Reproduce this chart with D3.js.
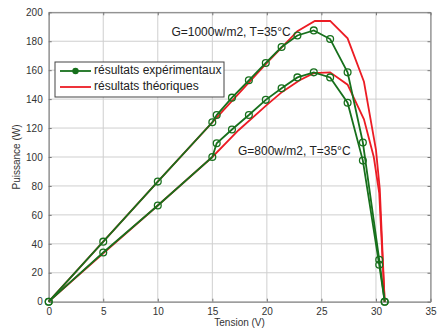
<!DOCTYPE html>
<html>
<head>
<meta charset="utf-8">
<script src="https://cdn.jsdelivr.net/npm/d3@7"></script>
<style>
  body { margin: 0; background: #fff; }
  svg { display: block; font-family: "Liberation Sans", Arial, sans-serif; }
</style>
</head>
<body>
<div id="chart"></div>
<script>
// experimental points (same voltages for both irradiances)
var vExp = [0, 5, 10, 15, 15.4, 16.8, 18.35, 19.9, 21.35, 22.8, 24.3, 25.8, 27.4, 28.8, 30.3, 30.8];
var pExp1000 = [0, 41.5, 83, 124, 129, 141, 153, 165, 176, 184, 187.5, 181.5, 158.5, 110, 29, 0];
var pExp800 = [0, 34, 66.5, 100, 109.5, 119, 129, 139.5, 147.5, 155, 158.5, 155, 137.5, 97.5, 25.5, 0];

// theoretical curves
var vTh1000 = [0, 5, 10, 15, 20, 22.8, 24.4, 25.8, 27.4, 28.9, 30, 30.35, 30.8];
var pTh1000 = [0, 41.5, 83, 124, 165, 187, 194, 194, 182, 152, 105, 78, 0];
var vTh800 = [0, 5, 10, 15, 17.4, 20, 21.4, 23, 24.3, 25.8, 27.4, 28.9, 29.8, 30.3, 30.8];
var pTh800 = [0, 33.5, 66.5, 100, 118.5, 136, 145, 153, 158, 158.5, 150, 126, 100, 75, 0];

var xTicks = [0, 5, 10, 15, 20, 25, 30, 35];
var yTicks = [0, 20, 40, 60, 80, 100, 120, 140, 160, 180, 200];
var legendLabels = ["résultats expérimentaux", "résultats théoriques"];
var notes = [
  { text: "G=1000w/m2, T=35°C", v: 11.25, p: 186 },
  { text: "G=800w/m2, T=35°C", v: 17.35, p: 103.5 }
];

var W = 437, H = 335;
var margin = { top: 12.3, right: 6.5, bottom: 33.3, left: 48.7 };
var green = "#17701c", red = "#ec1c24";

var svg = d3.select("#chart").append("svg")
  .attr("width", W).attr("height", H);

var x = d3.scaleLinear().domain([0, 35]).range([margin.left, W - margin.right]);
var y = d3.scaleLinear().domain([0, 200]).range([H - margin.bottom, margin.top]);

// grid
var grid = svg.append("g").attr("stroke", "#cfcfcf").attr("stroke-width", 1);
grid.selectAll("line.vx").data(xTicks).enter().append("line")
  .attr("x1", d => x(d)).attr("x2", d => x(d))
  .attr("y1", y(0)).attr("y2", y(200));
grid.selectAll("line.hy").data(yTicks).enter().append("line")
  .attr("class", "hy")
  .attr("x1", x(0)).attr("x2", x(35))
  .attr("y1", d => y(d)).attr("y2", d => y(d));

// axes (ticks inward, matlab style)
svg.append("g")
  .attr("transform", "translate(0," + y(0) + ")")
  .call(d3.axisBottom(x).tickValues(xTicks).tickSizeInner(-3).tickSizeOuter(0).tickPadding(6));
svg.append("g")
  .attr("transform", "translate(" + x(0) + ",0)")
  .call(d3.axisLeft(y).tickValues(yTicks).tickSizeInner(-3).tickSizeOuter(0).tickPadding(6));
svg.append("g")
  .attr("transform", "translate(0," + y(200) + ")")
  .call(d3.axisTop(x).tickValues(xTicks).tickSizeInner(-3).tickSizeOuter(0).tickFormat(""));
svg.append("g")
  .attr("transform", "translate(" + x(35) + ",0)")
  .call(d3.axisRight(y).tickValues(yTicks).tickSizeInner(-3).tickSizeOuter(0).tickFormat(""));

svg.selectAll(".domain").attr("stroke", "#777");
svg.selectAll(".tick line").attr("stroke", "#777");
svg.selectAll(".tick text").attr("font-size", 10).attr("fill", "#333")
  .attr("font-family", "Liberation Sans, Arial, sans-serif");

// axis labels
svg.append("text")
  .attr("x", (x(0) + x(35)) / 2).attr("y", 326)
  .attr("text-anchor", "middle").attr("font-size", 10).attr("fill", "#333")
  .text("Tension (V)");
svg.append("text")
  .attr("transform", "translate(20," + (y(0) + y(200)) / 2 + ") rotate(-90)")
  .attr("text-anchor", "middle").attr("font-size", 10).attr("fill", "#333")
  .text("Puissance (W)");

var line = d3.line().x(d => x(d[0])).y(d => y(d[1]));

function drawTh(v, p) {
  svg.append("path")
    .attr("d", line(d3.zip(v, p)))
    .attr("fill", "none").attr("stroke", red).attr("stroke-width", 1.8);
}
function drawExp(v, p) {
  var pts = d3.zip(v, p);
  svg.append("path")
    .attr("d", line(pts))
    .attr("fill", "none").attr("stroke", green).attr("stroke-width", 1.8);
  svg.append("g").selectAll("circle").data(pts).enter().append("circle")
    .attr("cx", d => x(d[0])).attr("cy", d => y(d[1])).attr("r", 3.4)
    .attr("fill", "none").attr("stroke", green).attr("stroke-width", 1.3);
}

drawTh(vTh1000, pTh1000);
drawTh(vTh800, pTh800);
drawExp(vExp, pExp1000);
drawExp(vExp, pExp800);

// annotations
svg.selectAll("text.note").data(notes).enter().append("text")
  .attr("class", "note")
  .attr("x", d => x(d.v)).attr("y", d => y(d.p))
  .attr("dominant-baseline", "middle")
  .attr("font-size", 12).attr("fill", "#222")
  .text(d => d.text);

// legend
var lg = svg.append("g").attr("transform", "translate(55,62)");
lg.append("rect").attr("width", 169).attr("height", 35)
  .attr("fill", "#fff").attr("stroke", "#444").attr("stroke-width", 1);
lg.append("line").attr("x1", 5).attr("x2", 36).attr("y1", 9).attr("y2", 9)
  .attr("stroke", green).attr("stroke-width", 1.8);
lg.append("circle").attr("cx", 20.5).attr("cy", 9).attr("r", 3.2).attr("fill", green);
lg.append("line").attr("x1", 5).attr("x2", 36).attr("y1", 25).attr("y2", 25)
  .attr("stroke", red).attr("stroke-width", 1.8);
lg.selectAll("text").data(legendLabels).enter().append("text")
  .attr("x", 39).attr("y", (d, i) => 9 + i * 16)
  .attr("dominant-baseline", "middle")
  .attr("font-size", 12).attr("fill", "#222")
  .text(d => d);
</script>
</body>
</html>
